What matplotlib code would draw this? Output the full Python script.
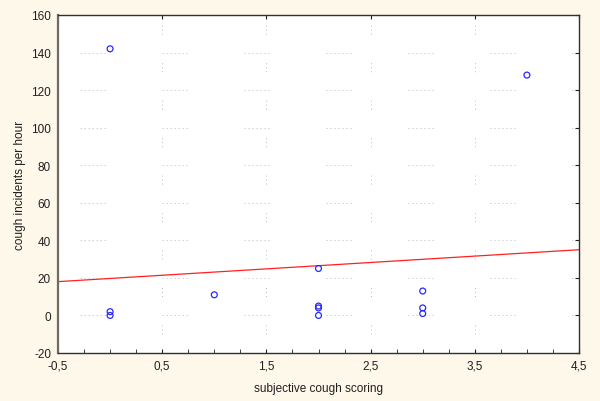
import matplotlib
matplotlib.use("Agg")
import matplotlib.pyplot as plt
from matplotlib.ticker import MultipleLocator, FuncFormatter

# subjective score vs measured cough rate
score = [0, 0, 0, 1, 2, 2, 2, 2, 3, 3, 3, 4]
coughs = [142, 2, 0, 11, 25, 5, 4, 0, 13, 4, 1, 128]

# fitted line as drawn in the original
fit_x = [-0.5, 4.5]
fit_y = [18, 35]

x_ticks = [-0.5, 0.5, 1.5, 2.5, 3.5, 4.5]
y_ticks = [-20, 0, 20, 40, 60, 80, 100, 120, 140, 160]

bg = "#fdf8ea"
plt.rcParams['font.family'] = ['Liberation Sans', 'DejaVu Sans']
plt.rcParams['axes.unicode_minus'] = False
plt.rcParams['lines.scale_dashes'] = False

fig = plt.figure(figsize=(6.0, 4.02), dpi=100, facecolor=bg)
ax = fig.add_axes([58 / 600, 1 - 354 / 402, 521 / 600, 338 / 402])
ax.set_facecolor("white")

# sparse dotted grid, like the old statistics package draws it
h_dots = (0.72, 2.16) * 6 + (0.72, 41.0)
v_dots = (0.72, 2.16, 0.72, 2.16, 0.72, 20.5)
grid_style = dict(color="#bcbcbc", linewidth=0.7, zorder=0)
for yv in y_ticks[1:-1]:
    ax.axhline(yv, linestyle=(43.0, h_dots), **grid_style)
for xv in x_ticks[1:-1]:
    ax.axvline(xv, linestyle=(13.3, v_dots), **grid_style)

ax.plot(fit_x, fit_y, color="#ff2020", linewidth=0.9, zorder=2)
ax.scatter(score, coughs, s=18, facecolors="none", edgecolors="#2828ff",
           linewidths=0.9, zorder=3)

ax.set_xlim(-0.5, 4.5)
ax.set_ylim(-20, 160)
ax.set_xticks(x_ticks)
ax.set_yticks(y_ticks)
ax.xaxis.set_minor_locator(MultipleLocator(0.25))
comma = FuncFormatter(lambda v, p: ("%g" % v).replace(".", ","))
ax.xaxis.set_major_formatter(comma)

ax.tick_params(axis="both", which="both", direction="in", labelsize=8.5,
               colors="#202020", top=True, right=True, left=False)
ax.tick_params(axis="x", which="major", length=3, pad=5)
ax.tick_params(axis="x", which="minor", length=3, top=False)
ax.tick_params(axis="y", which="major", length=3, pad=5)

for side in ["left", "bottom", "top", "right"]:
    ax.spines[side].set_color("#303030")
    ax.spines[side].set_linewidth(1.0)
ax.spines["left"].set_color("#706a60")
ax.spines["left"].set_linewidth(1.6)

ax.set_xlabel("subjective cough scoring", fontsize=8.5, color="#202020", labelpad=7)
ax.set_ylabel("cough incidents per hour", fontsize=8.5, color="#202020", labelpad=4)

fig.savefig("out.png", dpi=100, facecolor=bg)
